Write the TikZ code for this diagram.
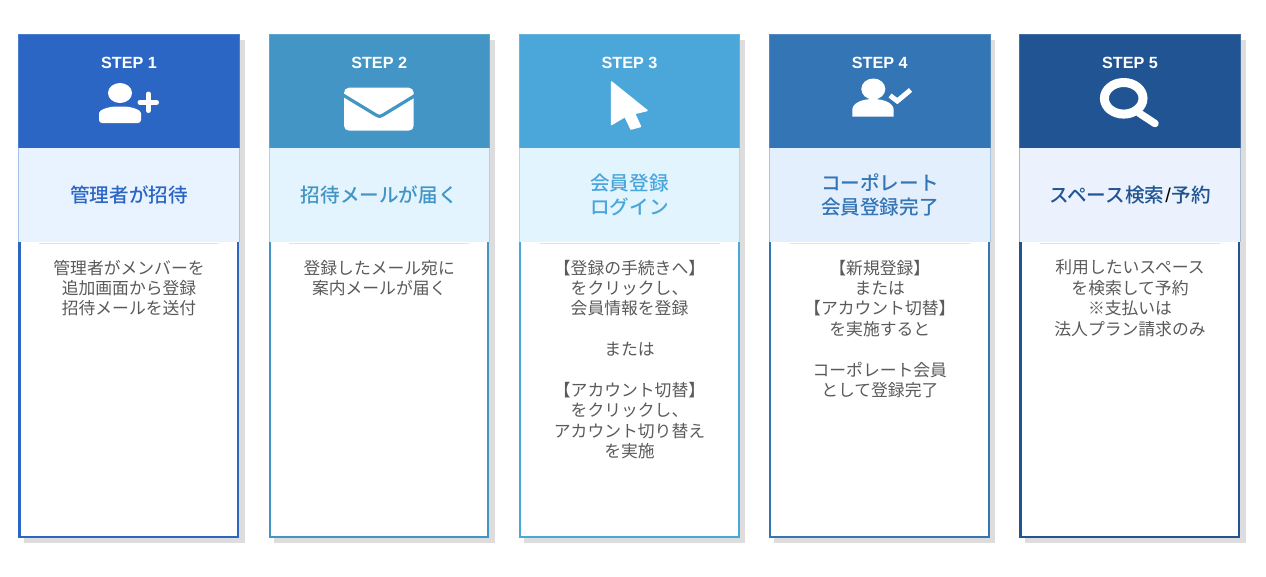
\documentclass[tikz,border=0pt]{standalone}
\usepackage{fontspec}
\setmainfont{Liberation Sans}
\newfontfamily\jpfont{Noto Sans CJK JP}
\newfontfamily\jptitle{Noto Sans CJK JP Medium}
\newfontfamily\slashfont{Liberation Sans}
\definecolor{hdA}{HTML}{2B66C5}\definecolor{bdA}{HTML}{E8F3FF}
\definecolor{hdB}{HTML}{4295C5}\definecolor{bdB}{HTML}{E3F4FE}
\definecolor{hdC}{HTML}{4BA6DA}\definecolor{bdC}{HTML}{E2F5FF}
\definecolor{hdD}{HTML}{3375B5}\definecolor{bdD}{HTML}{E4EFFD}
\definecolor{hdE}{HTML}{215493}\definecolor{bdE}{HTML}{EBF2FD}
\definecolor{shadowgray}{HTML}{DDDDDD}
\definecolor{sepgray}{HTML}{E2E2E2}
\definecolor{bodygray}{HTML}{5A5A5A}
\tikzset{
  x=1pt,y=-1pt,
  stepshadow/.style={fill=shadowgray,draw=none},
  outerbox/.style={fill=white,line width=2.1pt},
  headbox/.style={line width=0.6pt},
  bandbox/.style={line width=0.6pt},
  seprule/.style={draw=sepgray,line width=1.5pt},
  steplabel/.style={text=white,font=\bfseries\fontsize{16.2}{18}\selectfont,inner sep=0pt,anchor=center},
  titlelabel/.style={font=\jptitle\fontsize{19.6}{23.4}\selectfont,align=center,inner sep=0pt,anchor=center},
  bodylabel/.style={text=bodygray,font=\jpfont\fontsize{16.8}{20.4}\selectfont,align=center,inner sep=0pt,anchor=north},
  icon/.style={fill=white,draw=none},
}
\newcommand{\stepcard}[7]{%
  % #1 id, #2 left x, #3 head colour, #4 band colour, #5 step text, #6 title, #7 body
  \fill[stepshadow] (#2+5,39.5) rectangle (#2+226,542.5);
  \draw[outerbox,draw=#3] (#2+1,100) rectangle (#2+219.7,537);
  \draw[headbox,draw=#3!85!white,fill=#3] (#2+0.2,34.7) rectangle (#2+220.6,148);
  \fill[#4] (#2+0.2,148) rectangle (#2+220.6,242);
  \draw[bandbox,draw=#3!35!#4] (#2+0.2,148) -- (#2+0.2,242) (#2+220.6,148) -- (#2+220.6,242);
  \draw[seprule] (#2+20.5,243.6) -- (#2+200.5,243.6);
  \node[steplabel] (step#1) at (#2+110.5,62.6) {#5};
  \node[titlelabel,text=#3] (title#1) at (#2+110.5,194.8) {#6};
  \node[bodylabel] (body#1) at (#2+110.5,259.7) {#7};
}
\begin{document}
\begin{tikzpicture}
\useasboundingbox (0,0) rectangle (1266,576);
\fill[white] (0,0) rectangle (1266,576);
\stepcard{1}{18.5}{hdA}{bdA}{STEP 1}{管理者が招待}{管理者がメンバーを\\追加画面から登録\\招待メールを送付}
\stepcard{2}{268.7}{hdB}{bdB}{STEP 2}{招待メールが届く}{登録したメール宛に\\案内メールが届く}
\stepcard{3}{519}{hdC}{bdC}{STEP 3}{会員登録\\ログイン}{【登録の手続きへ】\\をクリックし、\\会員情報を登録\\\mbox{}\\または\\\mbox{}\\【アカウント切替】\\をクリックし、\\アカウント切り替え\\を実施}
\stepcard{4}{769.3}{hdD}{bdD}{STEP 4}{コーポレート\\会員登録完了}{【新規登録】\\または\\【アカウント切替】\\を実施すると\\\mbox{}\\コーポレート会員\\として登録完了}
\stepcard{5}{1019.5}{hdE}{bdE}{STEP 5}{スペース検索\hspace{1pt}{\color{black}\slashfont\fontsize{20}{24}\selectfont/}\hspace{1pt}予約}{利用したいスペース\\を検索して予約\\※支払いは\\法人プラン請求のみ}
% icon 1: person plus
\fill[icon] (120,93) ellipse [x radius=12,y radius=10];
\fill[icon,rounded corners=3pt] (99,123) -- (99,116) .. controls (99,110) and (108,106.5) .. (120,106.5) .. controls (132,106.5) and (141,110) .. (141,116) -- (141,123) -- cycle;
\draw[white,line width=5pt,line cap=round] (140,102.3) -- (156.5,102.3);
\draw[white,line width=5pt,line cap=round] (148.2,94) -- (148.2,110.5);
% icon 2: envelope
\fill[icon,rounded corners=5pt] (344,87.7) rectangle (413.7,130.7);
\draw[hdB,line width=3.2pt,line join=round] (343,95) -- (376,115) .. controls (378.5,117) and (380.5,117) .. (383,115) -- (415,95.5);
% icon 3: cursor
\fill[icon,draw=white,line width=1.5pt,line join=round] (611.5,82) -- (647,110.5) -- (634.5,113.5) -- (640.5,126.5) -- (631,129) -- (625,116.5) -- (611.5,124.5) -- cycle;
% icon 4: person check
\fill[icon] (873.3,89) ellipse [x radius=12,y radius=10.5];
\fill[icon] (852.3,116.7) -- (852.3,110) .. controls (852.3,103) and (862,99) .. (873,99) .. controls (884,99) and (893.7,103) .. (893.7,110) -- (893.7,116.7) -- cycle;
\draw[white,line width=5pt] (890,95.5) -- (897.3,101) -- (910.5,90);
% icon 5: magnifier
\draw[white,line width=9pt] (1123.7,98.3) ellipse [x radius=19.3,y radius=15.8];
\draw[white,line width=7.5pt,line cap=round] (1139,113) -- (1155,123.5);
\end{tikzpicture}
\end{document}
